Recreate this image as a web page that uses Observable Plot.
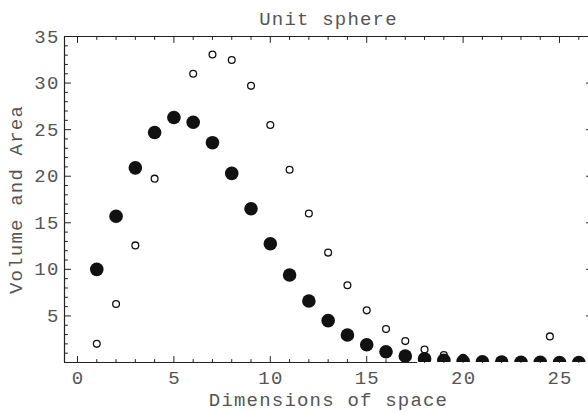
<!DOCTYPE html>
<html>
<head>
<meta charset="utf-8">
<script src="https://cdn.jsdelivr.net/npm/d3@7"></script>
<script src="https://cdn.jsdelivr.net/npm/@observablehq/plot@0.6"></script>
<style>
  html, body { margin: 0; padding: 0; background: #fff; overflow: hidden; }
  svg text { letter-spacing: 1.2px; }
</style>
</head>
<body>
<div id="chart"></div>
<script>
// Filled dots: volume (scaled) per dimension
const volDims = [1,2,3,4,5,6,7,8,9,10,11,12,13,14,15,16,17,18,19,20,21,22,23,24,25,26];
const volValues = [10.0,15.7,20.9,24.7,26.3,25.8,23.6,20.3,16.5,12.75,9.4,6.6,4.5,2.95,1.9,1.15,0.7,0.4,0.23,0.13,0.07,0.04,0.02,0.01,0.005,0.003];
// Open circles: area per dimension
const areaDims = [1,2,3,4,5,6,7,8,9,10,11,12,13,14,15,16,17,18,19,20,21,22,23,24.5];
const areaValues = [2.0,6.28,12.57,19.74,26.3,31.0,33.07,32.47,29.7,25.5,20.7,16.0,11.8,8.3,5.6,3.6,2.3,1.4,0.8,0.5,0.3,0.15,0.08,2.8];

const xTickLabels = [0,5,10,15,20,25];
const xMinorTicks = [1,2,3,4,6,7,8,9,11,12,13,14,16,17,18,19,21,22,23,24,26];
const yTickLabels = [5,10,15,20,25,30,35];
const yMinorTicks = [1,2,3,4,6,7,8,9,11,12,13,14,16,17,18,19,21,22,23,24,26,27,28,29,31,32,33,34];

const titleText = "Unit sphere";
const xLabel = "Dimensions of space";
const yLabel = "Volume and Area";

const xDomain = [-0.674, 26.71];
const yDomain = [0, 35];
const bottomLineEnd = 17.64;

const volData = volDims.map((d, i) => ({x: d, y: volValues[i]}));
const areaData = areaDims.map((d, i) => ({x: d, y: areaValues[i]}));

const font = "'Liberation Mono', 'DejaVu Sans Mono', monospace";
const labelColor = "#555";
const frameColor = "#222";
const tickShape = {draw(context, l) { context.moveTo(0, 0); context.lineTo(0, -l); }};
const fs = 19;

function ticks(data, channel, frameAnchor, rotate, length) {
  return Plot.vector(data, {
    [channel]: d => d, frameAnchor, rotate, length, anchor: "start",
    shape: tickShape, stroke: frameColor, strokeWidth: 1
  });
}

const chart = Plot.plot({
  width: 588,
  height: 412,
  marginLeft: 64,
  marginRight: -4,
  marginTop: 36,
  marginBottom: 50,
  x: {domain: xDomain, axis: null},
  y: {domain: yDomain, axis: null},
  style: {fontFamily: font, background: "#fff"},
  marks: [
    // frame lines
    Plot.ruleX([xDomain[0]], {stroke: frameColor, strokeWidth: 1.2}),
    Plot.ruleY([yDomain[1]], {stroke: frameColor, strokeWidth: 1.2}),
    Plot.ruleY([yDomain[0]], {x1: xDomain[0], x2: bottomLineEnd, stroke: frameColor, strokeWidth: 1.2}),
    // ticks (inward)
    ticks(xTickLabels, "x", "bottom", 0, 6),
    ticks(xMinorTicks, "x", "bottom", 0, 3),
    ticks(xTickLabels, "x", "top", 180, 6),
    ticks(xMinorTicks, "x", "top", 180, 3),
    ticks(yTickLabels, "y", "left", 90, 6),
    ticks(yMinorTicks, "y", "left", 90, 3),
    ticks(yTickLabels, "y", "right", -90, 6),
    ticks(yMinorTicks, "y", "right", -90, 3),
    // tick labels
    Plot.text(xTickLabels, {x: d => d, text: d => String(d), frameAnchor: "bottom", textAnchor: "middle", lineAnchor: "bottom", dy: 21, dx: 0.6, fontSize: fs, fill: labelColor}),
    Plot.text(yTickLabels, {y: d => d, text: d => String(d), frameAnchor: "left", textAnchor: "end", dx: -5, lineAnchor: "middle", fontSize: fs, fill: labelColor}),
    // titles
    Plot.text([titleText], {text: d => d, frameAnchor: "top", textAnchor: "middle", lineAnchor: "bottom", dy: -12, fontSize: fs, fill: labelColor}),
    Plot.text([xLabel], {text: d => d, frameAnchor: "bottom", textAnchor: "middle", lineAnchor: "bottom", dy: 43, fontSize: fs, fill: labelColor}),
    Plot.text([yLabel], {text: d => d, frameAnchor: "left", textAnchor: "middle", rotate: -90, dx: -49, lineAnchor: "middle", fontSize: fs, fill: labelColor}),
    // data
    Plot.dot(areaData, {x: "x", y: "y", r: 3.4, stroke: "#111", strokeWidth: 1.3, fill: "#fff", clip: true}),
    Plot.dot(volData, {x: "x", y: "y", r: 6.8, fill: "#111", stroke: "none", clip: true})
  ]
});
document.getElementById("chart").append(chart);
</script>
</body>
</html>
